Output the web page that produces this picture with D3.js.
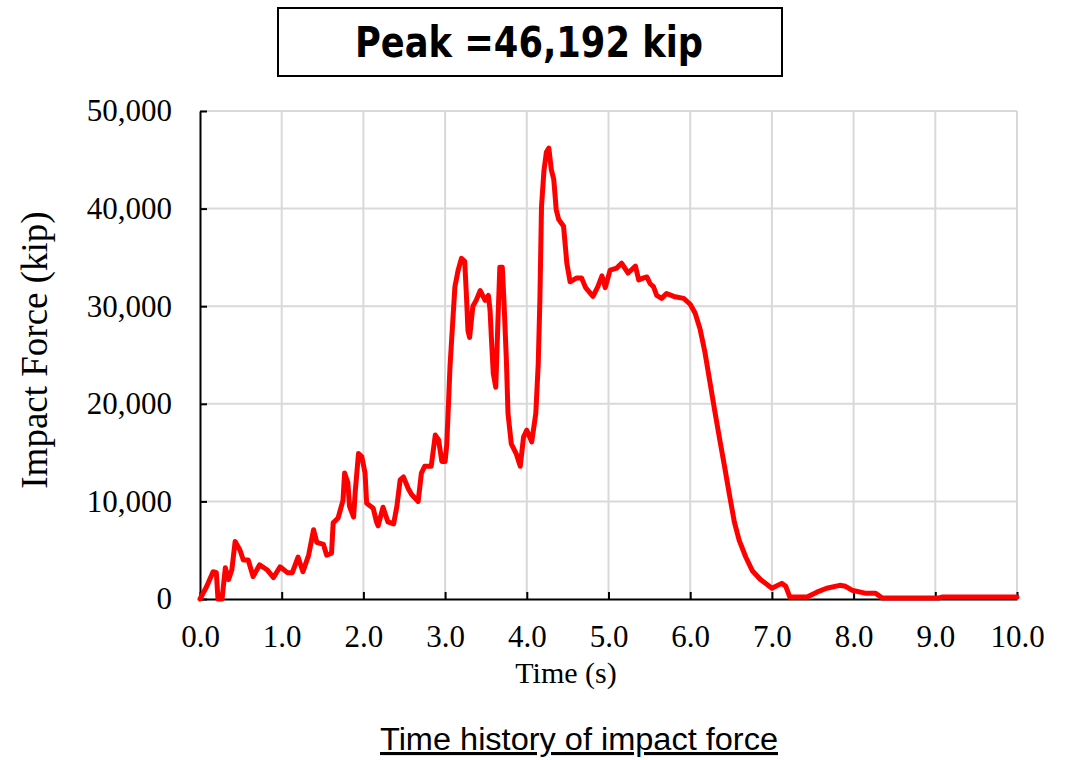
<!DOCTYPE html>
<html>
<head>
<meta charset="utf-8">
<script src="https://cdn.jsdelivr.net/npm/d3@7"></script>
<style>
  body { margin: 0; background: #fff; }
  svg { display: block; }
</style>
</head>
<body>
<script>
// Impact force time history

var timeS = [
  0, 0.08, 0.16, 0.2, 0.22, 0.27, 0.31, 0.35, 0.39, 0.43, 0.49, 0.53, 0.59,
  0.65, 0.73, 0.82, 0.90, 0.98, 1.07, 1.13, 1.20, 1.26, 1.33, 1.39, 1.43,
  1.51, 1.55, 1.61, 1.63, 1.69, 1.75, 1.77, 1.81, 1.83, 1.88, 1.90, 1.94,
  1.98, 2.02, 2.04, 2.12, 2.16, 2.18, 2.24, 2.30, 2.37, 2.41, 2.45, 2.49,
  2.55, 2.59, 2.67, 2.71, 2.75, 2.83, 2.88, 2.92, 2.96, 3.00, 3.02, 3.04,
  3.06, 3.10, 3.12, 3.16, 3.20, 3.24, 3.26, 3.28, 3.30, 3.34, 3.38, 3.43,
  3.49, 3.53, 3.55, 3.57, 3.59, 3.62, 3.65, 3.67, 3.70, 3.72, 3.75, 3.77,
  3.81, 3.87, 3.92, 3.96, 4.00, 4.06, 4.11, 4.14, 4.16, 4.18, 4.21, 4.24,
  4.27, 4.30, 4.33, 4.36, 4.39, 4.45, 4.49, 4.53, 4.61, 4.67, 4.72, 4.81,
  4.87, 4.92, 4.96, 5.02, 5.10, 5.16, 5.24, 5.33, 5.37, 5.43, 5.47, 5.51,
  5.55, 5.59, 5.65, 5.71, 5.80, 5.92, 6.00, 6.06, 6.12, 6.18, 6.24, 6.30,
  6.36, 6.42, 6.48, 6.54, 6.60, 6.68, 6.76, 6.86, 7.00, 7.12, 7.17, 7.22,
  7.43, 7.55, 7.67, 7.83, 7.90, 7.98, 8.14, 8.27, 8.35, 9.04, 9.08, 10.0
];

var forceKip = [
  0, 1250, 2800, 2700, 0, 0, 3200, 2000, 3000, 5900, 5000, 4000, 4000,
  2300, 3500, 3000, 2200, 3300, 2700, 2700, 4300, 2800, 4500, 7100, 5800,
  5600, 4500, 4700, 7800, 8300, 10100, 12900, 11900, 9500, 8400, 11000, 14900,
  14600, 12900, 9800, 9300, 7900, 7500, 9400, 7900, 7700, 9500, 12200, 12500,
  11300, 10700, 10000, 12900, 13600, 13600, 16800, 16300, 14100, 14100, 15800, 19700,
  23800, 29300, 32000, 33700, 34900, 34600, 31300, 27500, 26800, 30000, 30600, 31600,
  30600, 31100, 29600, 26200, 23100, 21700, 29300, 34000, 34000, 30600, 24500, 19000,
  15900, 14900, 13600, 16600, 17300, 16100, 19000, 24100, 30600, 40200, 43900, 45800,
  46192, 44000, 43000, 39900, 38900, 38200, 34400, 32500, 32900, 32900, 31900, 31000,
  32000, 33100, 31900, 33700, 33900, 34400, 33400, 34100, 32700, 32900, 33000, 32300,
  32000, 31100, 30800, 31300, 31000, 30800, 30200, 29300, 27700, 25300, 22300, 19300,
  16400, 13600, 10700, 7900, 6000, 4300, 2900, 2000, 1100, 1600, 1300, 200,
  200, 700, 1100, 1400, 1300, 900, 600, 600, 100, 100, 200, 200
];

var xTicks = [0, 1, 2, 3, 4, 5, 6, 7, 8, 9, 10];
var yTicks = [0, 10000, 20000, 30000, 40000, 50000];

var peakLabel = "Peak =46,192 kip";
var xTitle = "Time (s)";
var yTitle = "Impact Force (kip)";
var caption = "Time history of impact force";

var width = 1079, height = 760;
var plot = { left: 200, right: 1017, top: 111, bottom: 599 };
var serif = "'Liberation Serif', 'Times New Roman', serif";

var svg = d3.select("body").append("svg")
    .attr("width", width)
    .attr("height", height);

var x = d3.scaleLinear().domain([0, 10]).range([plot.left, plot.right]);
var y = d3.scaleLinear().domain([0, 50000]).range([plot.bottom, plot.top]);

// Gridlines
svg.append("g")
    .selectAll("line")
    .data(xTicks.slice(1))
    .join("line")
    .attr("x1", d => x(d)).attr("x2", d => x(d))
    .attr("y1", plot.top).attr("y2", plot.bottom)
    .style("stroke", "#d9d9d9").style("stroke-width", 2);

svg.append("g")
    .selectAll("line")
    .data(yTicks.slice(1))
    .join("line")
    .attr("x1", plot.left).attr("x2", plot.right)
    .attr("y1", d => y(d)).attr("y2", d => y(d))
    .style("stroke", "#d9d9d9").style("stroke-width", 2);

// Axes (ticks pointing inward)
var xAxis = svg.append("g")
    .attr("transform", "translate(0," + plot.bottom + ")")
    .call(d3.axisBottom(x).tickValues(xTicks).tickSizeInner(-7).tickSizeOuter(0)
        .tickFormat(d3.format(".1f")).tickPadding(26));

var yAxis = svg.append("g")
    .attr("transform", "translate(" + plot.left + ",0)")
    .call(d3.axisLeft(y).tickValues(yTicks).tickSizeInner(-7).tickSizeOuter(0)
        .tickFormat(d3.format(",")).tickPadding(28));

[xAxis, yAxis].forEach(function(a) {
    a.select(".domain").style("stroke", "#000").style("stroke-width", 2);
    a.selectAll(".tick line").style("stroke", "#000").style("stroke-width", 2);
    a.selectAll("text")
        .style("font-family", serif)
        .style("font-size", "31px")
        .style("fill", "#000");
});

// Force curve
var points = timeS.map(function(t, i) { return [t, forceKip[i]]; });
svg.append("path")
    .datum(points)
    .attr("d", d3.line().x(d => x(d[0])).y(d => y(d[1])))
    .style("fill", "none")
    .style("stroke", "#ff0000")
    .style("stroke-width", 5)
    .style("stroke-linejoin", "round")
    .style("stroke-linecap", "round");

// Axis titles
svg.append("text")
    .attr("x", 566).attr("y", 683)
    .attr("text-anchor", "middle")
    .style("font-family", serif)
    .style("font-size", "30px")
    .text(xTitle);

svg.append("text")
    .attr("transform", "translate(47,350) rotate(-90)")
    .attr("text-anchor", "middle")
    .style("font-family", serif)
    .style("font-size", "37px")
    .text(yTitle);

// Peak box
svg.append("rect")
    .attr("x", 278).attr("y", 8)
    .attr("width", 504).attr("height", 68)
    .style("fill", "#fff").style("stroke", "#000").style("stroke-width", 2);

svg.append("text")
    .attr("x", 355).attr("y", 57)
    .attr("textLength", 348)
    .attr("lengthAdjust", "spacingAndGlyphs")
    .style("font-family", "'DejaVu Sans', Verdana, sans-serif")
    .style("font-weight", "bold")
    .style("font-size", "43px")
    .text(peakLabel);

// Caption
svg.append("text")
    .attr("x", 380).attr("y", 750)
    .attr("textLength", 398)
    .attr("lengthAdjust", "spacingAndGlyphs")
    .style("font-family", "'Liberation Sans Narrow', 'Arial Narrow', 'Liberation Sans', sans-serif")
    .style("font-size", "31px")
    .style("text-decoration", "underline")
    .text(caption);
</script>
</body>
</html>
